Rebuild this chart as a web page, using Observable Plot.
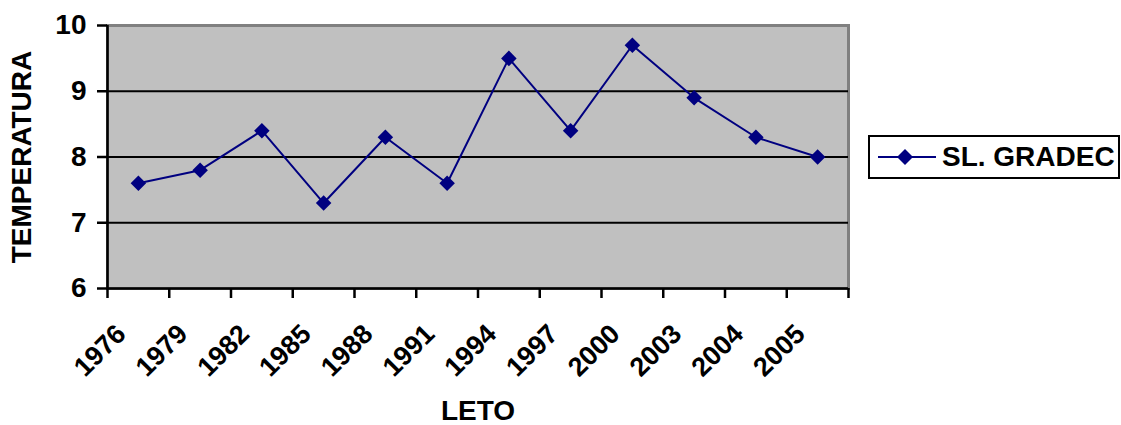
<!DOCTYPE html>
<html>
<head>
<meta charset="utf-8">
<script src="https://cdn.jsdelivr.net/npm/d3@7"></script>
<script src="https://cdn.jsdelivr.net/npm/@observablehq/plot@0.6"></script>
<style>
  body { margin: 0; background: white; }
  #wrap { position: relative; width: 1121px; height: 425px; font-family: "Liberation Sans", Arial, sans-serif; }
  #legend { position: absolute; left: 868px; top: 135px; width: 252px; height: 44px; box-sizing: border-box;
    border: 2px solid black; background: white; display: flex; align-items: center; }
  #legend span { font-weight: bold; font-size: 28px; color: black; margin-left: 0px; }
</style>
</head>
<body>
<div id="wrap"></div>
<script>
const years = ["1976","1979","1982","1985","1988","1991","1994","1997","2000","2003","2004","2005"];
const temps = [7.6, 7.8, 8.4, 7.3, 8.3, 7.6, 9.5, 8.4, 9.7, 8.9, 8.3, 8.0];
const yTicks = [6, 7, 8, 9, 10];
const seriesName = "SL. GRADEC";
const xTitle = "LETO";
const yTitle = "TEMPERATURA";

const data = years.map((year, i) => ({year, temp: temps[i], i}));
const pos = d => d.i + 0.5;

const chart = Plot.plot({
  width: 1121, height: 425,
  marginLeft: 107, marginRight: 273, marginTop: 25, marginBottom: 137,
  style: {fontFamily: "'Liberation Sans', Arial, sans-serif", fontWeight: "bold", fontSize: "28px", background: "white", color: "black", overflow: "visible"},
  x: {type: "linear", domain: [0, years.length]},
  y: {domain: [6, 10]},
  marks: [
    Plot.frame({fill: "#C0C0C0", stroke: "#808080", strokeWidth: 3}),
    Plot.ruleY([7, 8, 9], {stroke: "black", strokeWidth: 2}),
    Plot.ruleY([6], {stroke: "black", strokeWidth: 2.5}),
    Plot.ruleX([0], {stroke: "black", strokeWidth: 2.5}),
    Plot.axisY({ticks: yTicks, tickFormat: d3.format("d"), tickSize: 10, tickPadding: 11, fontSize: 28, fontWeight: "bold", strokeWidth: 2.5, label: null}),
    Plot.axisX({ticks: d3.range(0, years.length + 1), tickSize: 10, tickFormat: () => "", strokeWidth: 2.5, label: null}),
    Plot.text(data, {x: pos, y: () => 6, text: "year", rotate: -45, textAnchor: "end", lineAnchor: "middle", dx: -17, dy: 41, fontSize: 27, fontWeight: "bold"}),
    Plot.line(data, {x: pos, y: "temp", stroke: "#000080", strokeWidth: 2}),
    Plot.dot(data, {x: pos, y: "temp", symbol: "diamond2", r: 7, fill: "#000080", stroke: "none"}),
    Plot.text([yTitle], {frameAnchor: "left", dx: -85, rotate: -90, textAnchor: "middle", lineAnchor: "middle", fontSize: 28, fontWeight: "bold"}),
    Plot.text([xTitle], {frameAnchor: "bottom", dy: 123, textAnchor: "middle", lineAnchor: "middle", fontSize: 28, fontWeight: "bold"})
  ]
});
const wrap = document.getElementById("wrap");
wrap.appendChild(chart);

const legend = document.createElement("div");
legend.id = "legend";
legend.innerHTML = `<svg width="64" height="20" style="margin-left:8px"><line x1="0" y1="10" x2="58" y2="10" stroke="#000080" stroke-width="2"/><path d="M27,2 L35,10 L27,18 L19,10 Z" fill="#000080"/></svg><span></span>`;
legend.querySelector("span").textContent = seriesName;
wrap.appendChild(legend);
</script>
</body>
</html>
